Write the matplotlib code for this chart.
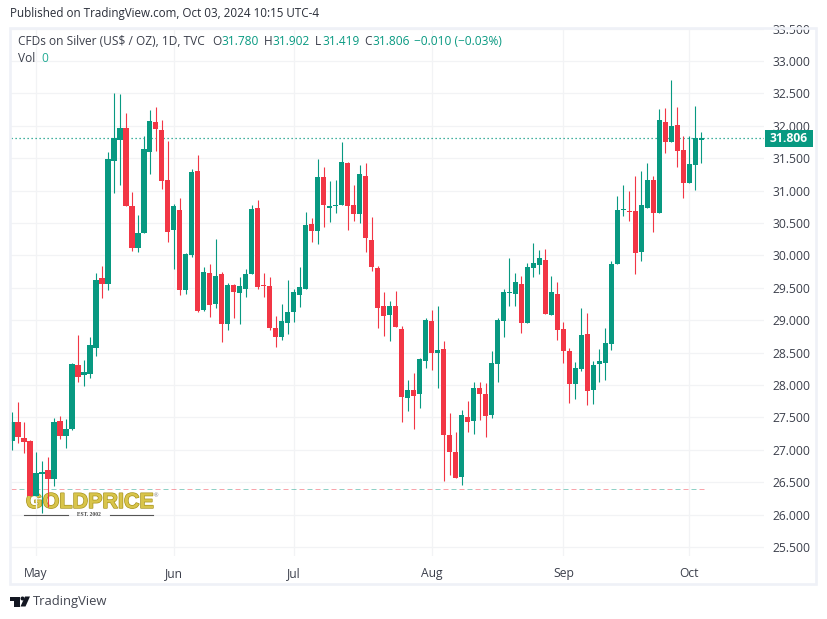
import matplotlib
matplotlib.use("Agg")
import matplotlib.pyplot as plt
import matplotlib.patheffects as pe
from matplotlib.patches import Circle, Polygon, Rectangle

# daily candles, May 2024 -> Oct 03 2024
opens = [27.14, 27.43, 27.18, 27.13, 26.29, 26.62, 26.69, 26.55, 27.44, 27.21, 27.32, 28.31, 28.15, 28.17, 28.57, 29.65,
         29.56, 31.46, 31.78, 31.96, 30.76, 30.11, 30.34, 31.59, 32.06, 31.93, 31.16, 30.39, 30.70, 29.46, 30.00, 31.30,
         29.16, 29.73, 29.25, 29.71, 28.94, 29.54, 29.42, 29.48, 29.71, 30.73, 29.54, 29.53, 28.88, 28.74, 28.96, 29.13,
         29.39, 29.48, 30.48, 30.38, 31.21, 30.73, 30.76, 30.78, 31.43, 30.78, 30.64, 31.22, 30.24, 29.80, 29.22, 29.08,
         29.22, 28.86, 27.80, 27.92, 27.86, 28.37, 28.99, 28.49, 28.55, 27.23, 26.96, 26.58, 27.50, 27.44, 27.95, 27.86,
         27.54, 28.32, 28.99, 29.42, 29.40, 29.56, 28.95, 29.80, 29.85, 29.93, 29.08, 29.40, 28.86, 28.52, 28.01,
         28.25, 28.79, 27.92, 28.32, 28.34, 28.63, 29.87, 30.70, 30.68, 30.68, 30.05, 30.73, 31.16, 30.65, 32.06, 31.75,
         32.01, 31.63, 31.12, 31.39, 31.78]
highs = [27.58, 27.74, 27.43, 27.15, 26.96, 26.83, 26.89, 27.49, 27.52, 27.47, 28.34, 28.77, 28.38, 28.74, 29.73, 29.83,
         31.59, 32.50, 32.49, 32.20, 30.98, 30.62, 31.84, 32.24, 32.29, 32.09, 31.76, 30.79, 30.88, 30.04, 31.33, 31.55,
         29.82, 29.87, 30.25, 29.74, 29.57, 29.56, 29.67, 29.79, 30.78, 30.85, 29.73, 29.67, 29.06, 29.25, 29.62, 29.48,
         29.82, 30.67, 30.58, 31.49, 31.36, 31.15, 31.16, 31.75, 31.44, 31.09, 31.39, 31.43, 30.59, 29.84, 29.43, 29.30,
         29.45, 28.91, 28.08, 28.18, 28.41, 29.03, 29.16, 29.22, 28.68, 27.57, 27.27, 27.61, 27.75, 28.04, 28.04, 28.03,
         28.52, 29.03, 29.48, 29.96, 29.73, 29.68, 29.88, 30.19, 30.08, 30.10, 29.68, 29.59, 28.97, 28.57, 28.35,
         29.19, 29.11, 28.37, 28.55, 28.88, 29.91, 30.92, 31.09, 30.99, 31.22, 31.30, 31.43, 31.22, 32.26, 32.27, 32.71,
         32.29, 31.84, 31.84, 32.30, 31.902]
lows = [27.00, 27.11, 26.95, 26.28, 26.28, 26.03, 26.12, 26.44, 27.17, 27.03, 27.30, 28.04, 27.98, 28.11, 28.45, 29.34,
        29.46, 30.96, 31.09, 30.76, 30.07, 30.05, 30.34, 31.25, 31.61, 31.02, 30.20, 29.79, 29.39, 29.40, 29.97, 29.13,
        29.14, 29.05, 29.19, 28.66, 28.85, 29.03, 28.94, 29.36, 29.71, 29.48, 29.36, 28.85, 28.59, 28.69, 28.79, 28.97,
        29.20, 29.48, 30.21, 30.18, 30.44, 30.51, 30.65, 30.78, 30.39, 30.53, 30.50, 30.05, 29.76, 28.88, 28.76, 28.68,
        28.89, 27.43, 27.60, 27.32, 27.64, 28.26, 28.23, 27.95, 26.52, 26.61, 26.56, 26.46, 27.27, 27.24, 27.46, 27.20,
        27.49, 28.04, 28.74, 29.22, 29.22, 28.80, 28.95, 29.66, 29.71, 29.09, 29.08, 28.69, 28.34, 27.72, 27.78,
        28.22, 27.69, 27.71, 28.05, 28.08, 28.54, 29.87, 30.61, 30.53, 29.71, 29.91, 30.73, 30.36, 30.65, 31.58, 31.75,
        31.36, 30.89, 31.12, 31.01, 31.419]
closes = [27.43, 27.20, 27.12, 26.29, 26.64, 26.66, 26.55, 27.43, 27.21, 27.32, 28.32, 28.12, 28.20, 28.62, 29.62, 29.56,
          31.49, 31.81, 31.96, 30.76, 30.11, 30.34, 31.64, 32.07, 31.95, 31.15, 30.36, 30.76, 29.46, 30.02, 31.29, 29.14,
          29.74, 29.23, 29.68, 28.94, 29.54, 29.43, 29.53, 29.71, 30.72, 29.51, 29.52, 28.88, 28.74, 28.99, 29.13, 29.43,
          29.51, 30.47, 30.38, 31.21, 30.78, 30.76, 30.78, 31.44, 30.76, 30.64, 31.26, 30.27, 29.82, 29.19, 29.06, 29.22,
          28.89, 27.81, 27.92, 27.83, 28.40, 29.00, 28.49, 28.54, 27.23, 26.96, 26.56, 27.54, 27.43, 27.95, 27.86, 27.52,
          28.34, 29.00, 29.43, 29.43, 29.59, 28.95, 29.82, 29.88, 29.96, 29.09, 29.43, 28.85, 28.52, 28.01, 28.26,
          28.77, 27.91, 28.31, 28.37, 28.65, 29.87, 30.70, 30.72, 30.67, 30.04, 30.78, 31.16, 30.65, 32.09, 31.75, 32.00,
          31.61, 31.12, 31.41, 31.81, 31.806]

last_price = 31.806
base_line = 26.39
y_ticks = [25.5, 26.0, 26.5, 27.0, 27.5, 28.0, 28.5, 29.0, 29.5, 30.0, 30.5, 31.0, 31.5, 32.0, 32.5, 33.0, 33.5]
month_pos = [4, 27, 47, 70, 92, 113]
month_labels = ["May", "Jun", "Jul", "Aug", "Sep", "Oct"]

W, H = 828, 619
GREEN = "#089981"
RED = "#F23645"
TEXT = "#3b3f4b"
GRID = "#f2f3f5"
BORDER = "#eff1f7"

plt.rcParams["font.family"] = ["Open Sans", "DejaVu Sans"]


def pixel_overlay(fig, zorder):
    # full figure axes with y going down, for everything that is not price data
    a = fig.add_axes([0, 0, 1, 1], facecolor="none", zorder=zorder)
    a.set_xlim(0, W)
    a.set_ylim(H, 0)
    a.set_autoscale_on(False)
    a.axis("off")
    return a


fig = plt.figure(figsize=(W / 100, H / 100), dpi=100, facecolor="white")

# logo letters sit under the candles, the wicks run across them
under = pixel_overlay(fig, 0)
under.text(89.5, 502.5, "GOLDPRICE", fontsize=15.5, fontweight="bold", family="Liberation Sans", color="#d8c44a",
           ha="center", va="center", path_effects=[pe.withStroke(linewidth=1.0, foreground="#a8941f")])
under.text(156, 496, "\u00ae", fontsize=4, color="#777777", ha="center", va="center")

# price pane, placed in pixels: x 11..764, y 28..556
ax = fig.add_axes([11 / W, 1 - 556 / H, (764 - 11) / W, (556 - 28) / H], facecolor="none", zorder=1)
ax.set_xlim(-0.167, 125.46)
ax.set_ylim(25.36, 33.508)
for s in ax.spines.values():
    s.set_visible(False)

ax.set_yticks(y_ticks)
ax.set_yticklabels([f"{v:.3f}" for v in y_ticks])
ax.yaxis.tick_right()
ax.tick_params(axis="y", length=0, pad=5.8, labelsize=8.7, labelcolor=TEXT)
ax.set_xticks(month_pos)
ax.set_xticklabels(month_labels)
ax.tick_params(axis="x", length=0, pad=8, labelsize=8.7, labelcolor=TEXT)
ax.grid(color=GRID, linewidth=0.9)
ax.set_axisbelow(True)

xs = list(range(len(closes)))
colors = [GREEN if c >= o else RED for o, c in zip(opens, closes)]
ax.vlines(xs, lows, highs, colors=colors, linewidth=0.8, zorder=3)
bottoms = [min(o, c) for o, c in zip(opens, closes)]
heights = [abs(o - c) for o, c in zip(opens, closes)]
ax.bar(xs, heights, bottom=bottoms, width=0.88, color=colors, linewidth=0, zorder=4)

ax.axhline(last_price, color=GREEN, linewidth=0.9, dashes=(1, 2.2), zorder=2)
# faint two-colour dashed line near the bottom, lw 0.72pt = 1px so dash units are pixels
ax.plot([-0.167, 115.5], [base_line, base_line], color=RED, alpha=0.45, linewidth=0.72, linestyle=(0, (5, 11)), zorder=2)
ax.plot([-0.167, 115.5], [base_line, base_line], color=GREEN, alpha=0.45, linewidth=0.72, linestyle=(8, (5, 11)), zorder=2)

# chrome around the chart
ov = pixel_overlay(fig, 2)
ov.add_patch(Rectangle((10, 27.5), 806, 556, fill=False, edgecolor=BORDER, linewidth=1.9))

# rest of the logo goes here, the 26.000 gridline would paint over it otherwise
ov.plot([24.5, 68], [515, 515], color="#555555", linewidth=0.8)
ov.plot([110, 153], [515, 515], color="#555555", linewidth=0.8)
ov.text(89, 515, "EST. 2002", fontsize=4, family="Liberation Serif", fontweight="bold", color="#444444",
        ha="center", va="center")

ov.text(10, 13.5, "Published on TradingView.com, Oct 03, 2024 10:15 UTC-4", fontsize=8.4, color="#2a2e39", va="center")

# legend line, built piece by piece
legend_parts = [
    (18, "CFDs on Silver (US$ / OZ), 1D, TVC", TEXT),
    (212.5, "O", TEXT), (221, "31.780", GREEN),
    (263.5, "H", TEXT), (272, "31.902", GREEN),
    (315, "L", TEXT), (322, "31.419", GREEN),
    (364, "C", TEXT), (372, "31.806", GREEN),
    (414, "\u22120.010 (\u22120.03%)", GREEN),
]
for x, s, c in legend_parts:
    ov.text(x, 41.5, s, fontsize=8.55, color=c, va="center")
ov.text(18, 59, "Vol", fontsize=8.55, color=TEXT, va="center")
ov.text(41, 59, "0", fontsize=8.55, color="#22ab94", va="center")

# last price tag
ov.add_patch(Rectangle((765, 130), 48, 17, facecolor=GREEN, edgecolor="none", zorder=5))
ov.text(789, 138.5, f"{last_price:.3f}", color="white", fontsize=8.7, fontweight="bold", ha="center", va="center", zorder=6)

# TradingView mark and name
ink = "#131722"
ov.add_patch(Polygon([(10, 596.5), (20, 596.5), (20, 606.5), (14.5, 606.5), (14.5, 600.5), (10, 600.5)], color=ink, lw=0))
ov.add_patch(Circle((22.5, 598.5), 2, color=ink, lw=0))
ov.add_patch(Polygon([(25, 596.5), (30, 596.5), (25.5, 606.5), (20.5, 606.5)], color=ink, lw=0))
ov.text(33, 601.5, "TradingView", fontsize=9.4, color="#434651", va="center")

fig.savefig("out.png", dpi=100)
plt.close(fig)
